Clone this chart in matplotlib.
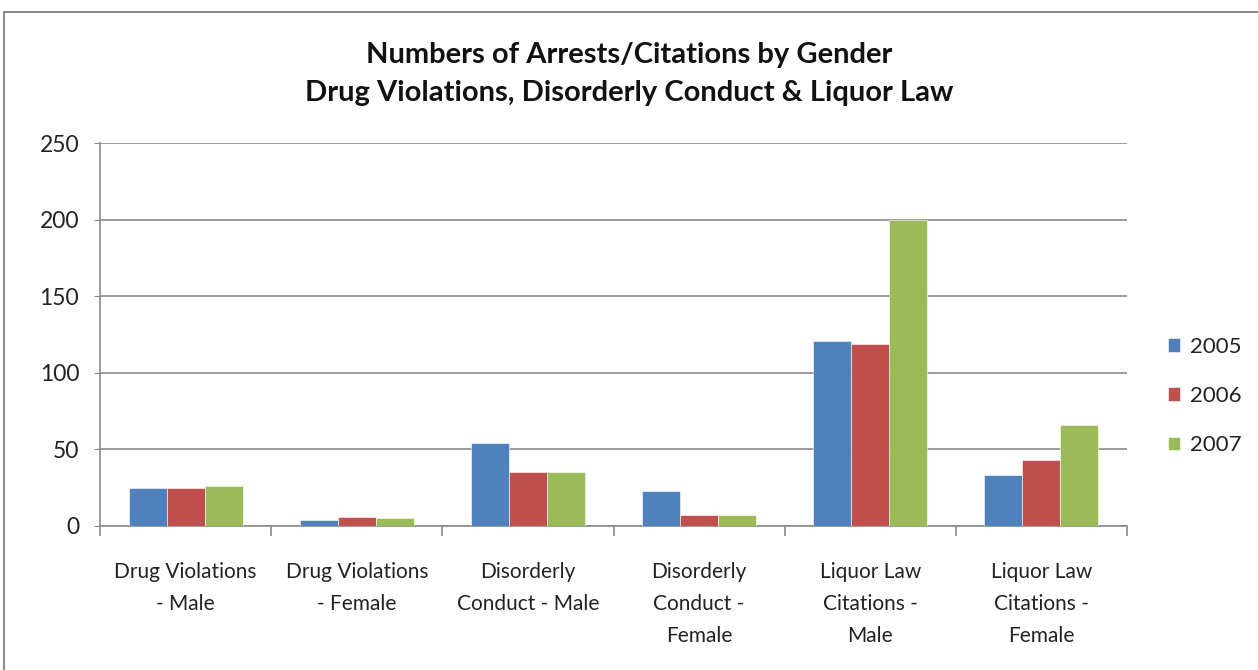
import matplotlib
matplotlib.use("Agg")
import matplotlib.pyplot as plt
import numpy as np
from matplotlib.patches import Rectangle

plt.rcParams['font.family'] = ['Lato', 'DejaVu Sans']

categories = ["Drug Violations\n- Male", "Drug Violations\n- Female", "Disorderly\nConduct - Male",
              "Disorderly\nConduct -\nFemale", "Liquor Law\nCitations -\nMale", "Liquor Law\nCitations -\nFemale"]
years = ["2005", "2006", "2007"]
v2005 = [25, 4, 54, 23, 121, 33]
v2006 = [25, 6, 35, 7, 119, 43]
v2007 = [26, 5, 35, 7, 200, 66]
colors = ["#4F81BD", "#C0504D", "#9BBB59"]
yticks = [0, 50, 100, 150, 200, 250]

fig = plt.figure(figsize=(12.58, 6.70), dpi=100)
fig.patches.append(Rectangle((4/1258, -0.01), 1.1, 1 - 12/670 + 0.01, transform=fig.transFigure,
                             fill=False, edgecolor="#8c8c8c", linewidth=1.5))
ax = fig.add_axes([100/1258, 1 - 526/670, 1027/1258, 383/670])

n = len(categories)
x = np.arange(n)
bw = 1 / 4.5
series = [v2005, v2006, v2007]
for i, (vals, c, yr) in enumerate(zip(series, colors, years)):
    ax.bar(x + (i - 1) * bw, vals, width=bw, color=c, label=yr, zorder=3,
           edgecolor="white", linewidth=0.4)

ax.set_xlim(-0.5, n - 0.5)
ax.set_ylim(0, 250)
ax.set_yticks(yticks)
ax.set_yticklabels([str(t) for t in yticks], fontsize=16.5, color="#222222")
ax.yaxis.grid(True, color="#8a8a8a", linewidth=1.2, zorder=0)
ax.set_axisbelow(True)
for s in ["top", "right"]:
    ax.spines[s].set_visible(False)
ax.spines["left"].set_color("#8a8a8a")
ax.spines["bottom"].set_color("#8a8a8a")
ax.spines["left"].set_linewidth(1.2)
ax.spines["bottom"].set_linewidth(1.2)
ax.tick_params(axis="y", length=4, color="#8a8a8a", pad=11)

ax.set_xticks(np.arange(n + 1) - 0.5)
ax.set_xticklabels([""] * (n + 1))
ax.tick_params(axis="x", length=7, color="#8a8a8a", width=1.2)
ax.set_xticks(x, minor=True)
ax.set_xticklabels(categories, minor=True, fontsize=15, color="#222222", linespacing=1.74)
ax.tick_params(axis="x", which="minor", length=0, pad=26)
for lbl in ax.get_xticklabels(minor=True):
    lbl.set_verticalalignment("top")

fig.text(0.5, 1 - 63/670, "Numbers of Arrests/Citations by Gender", ha="center", va="baseline",
         fontsize=21, fontweight="bold", color="#111111")
fig.text(0.5, 1 - 101/670, "Drug Violations, Disorderly Conduct & Liquor Law", ha="center", va="baseline",
         fontsize=21, fontweight="bold", color="#111111")

leg = fig.legend(loc="center left", bbox_to_anchor=(1168/1258, 1 - 396/670), frameon=False,
                 fontsize=16, handlelength=0.55, handleheight=0.55, labelspacing=1.32,
                 handletextpad=0.45, borderpad=0, borderaxespad=0)
for t in leg.get_texts():
    t.set_color("#222222")

fig.savefig("out.png", dpi=100)
